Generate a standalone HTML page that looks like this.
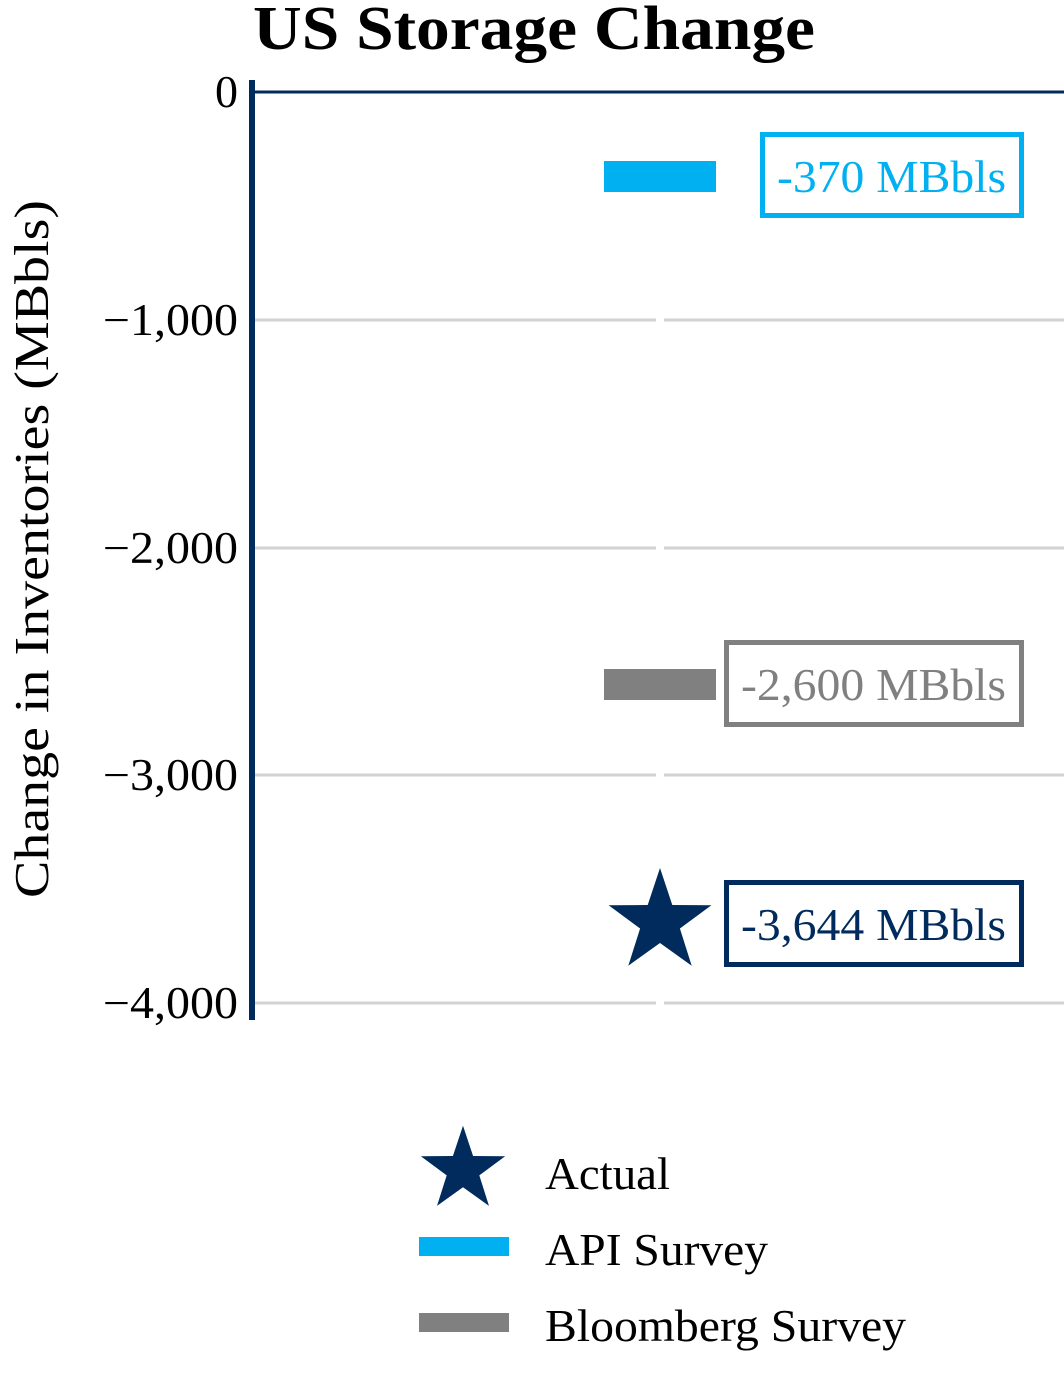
<!DOCTYPE html>
<html><head><meta charset="utf-8"><style>
html,body{margin:0;padding:0;background:#fff;}
svg{display:block;font-family:"Liberation Serif",serif;}
</style></head><body>
<svg width="1064" height="1380" viewBox="0 0 1064 1380" xmlns="http://www.w3.org/2000/svg">
<text x="253" y="49" font-size="62" font-weight="bold" fill="#000" textLength="562" lengthAdjust="spacingAndGlyphs">US Storage Change</text>
<g stroke="#d3d3d3" stroke-width="3">
<line x1="255" y1="320" x2="1064" y2="320"/>
<line x1="255" y1="548" x2="1064" y2="548"/>
<line x1="255" y1="775" x2="1064" y2="775"/>
<line x1="255" y1="1003" x2="1064" y2="1003"/>
</g>
<rect x="656" y="300" width="8" height="720" fill="#fff"/>
<line x1="252" y1="92" x2="1064" y2="92" stroke="#002b5c" stroke-width="3"/>
<line x1="252" y1="80" x2="252" y2="1020" stroke="#002b5c" stroke-width="6"/>
<g font-size="45" fill="#000">
<text x="215" y="107" textLength="23" lengthAdjust="spacingAndGlyphs">0</text>
<text x="103" y="335" textLength="135" lengthAdjust="spacingAndGlyphs">−1,000</text>
<text x="103" y="563" textLength="135" lengthAdjust="spacingAndGlyphs">−2,000</text>
<text x="103" y="790" textLength="135" lengthAdjust="spacingAndGlyphs">−3,000</text>
<text x="103" y="1018" textLength="135" lengthAdjust="spacingAndGlyphs">−4,000</text>
</g>
<text transform="translate(48,898) rotate(-90)" font-size="49" fill="#000" textLength="698" lengthAdjust="spacingAndGlyphs">Change in Inventories (MBbls)</text>
<rect x="604" y="161" width="112" height="31" fill="#00b0f0"/>
<rect x="604" y="669" width="112" height="31" fill="#808080"/>
<polygon fill="#002b5c" transform="translate(660,922)" points="0,-54 12.3,-17 51.4,-16.7 19.9,6.5 31.7,43.7 0,21 -31.7,43.7 -19.9,6.5 -51.4,-16.7 -12.3,-17"/>
<rect x="762.5" y="134.5" width="259" height="81" fill="#fff" stroke="#00b0f0" stroke-width="5"/>
<text x="777" y="192" font-size="46" fill="#00b0f0" textLength="229" lengthAdjust="spacingAndGlyphs">-370 MBbls</text>
<rect x="726.5" y="642.5" width="295" height="82" fill="#fff" stroke="#808080" stroke-width="5"/>
<text x="741" y="700" font-size="46" fill="#808080" textLength="265" lengthAdjust="spacingAndGlyphs">-2,600 MBbls</text>
<rect x="726.5" y="882.5" width="295" height="82" fill="#fff" stroke="#002b5c" stroke-width="5"/>
<text x="741" y="940" font-size="46" fill="#002b5c" textLength="265" lengthAdjust="spacingAndGlyphs">-3,644 MBbls</text>
<polygon fill="#002b5c" transform="translate(463,1170) scale(0.82)" points="0,-54 12.3,-17 51.4,-16.7 19.9,6.5 31.7,43.7 0,21 -31.7,43.7 -19.9,6.5 -51.4,-16.7 -12.3,-17"/>
<text x="545" y="1189" font-size="46" fill="#000" textLength="125" lengthAdjust="spacingAndGlyphs">Actual</text>
<rect x="419" y="1237" width="90" height="19" fill="#00b0f0"/>
<text x="545" y="1265" font-size="46" fill="#000" textLength="223" lengthAdjust="spacingAndGlyphs">API Survey</text>
<rect x="419" y="1313" width="90" height="19" fill="#808080"/>
<text x="545" y="1341" font-size="46" fill="#000" textLength="361" lengthAdjust="spacingAndGlyphs">Bloomberg Survey</text>
</svg>
</body></html>
